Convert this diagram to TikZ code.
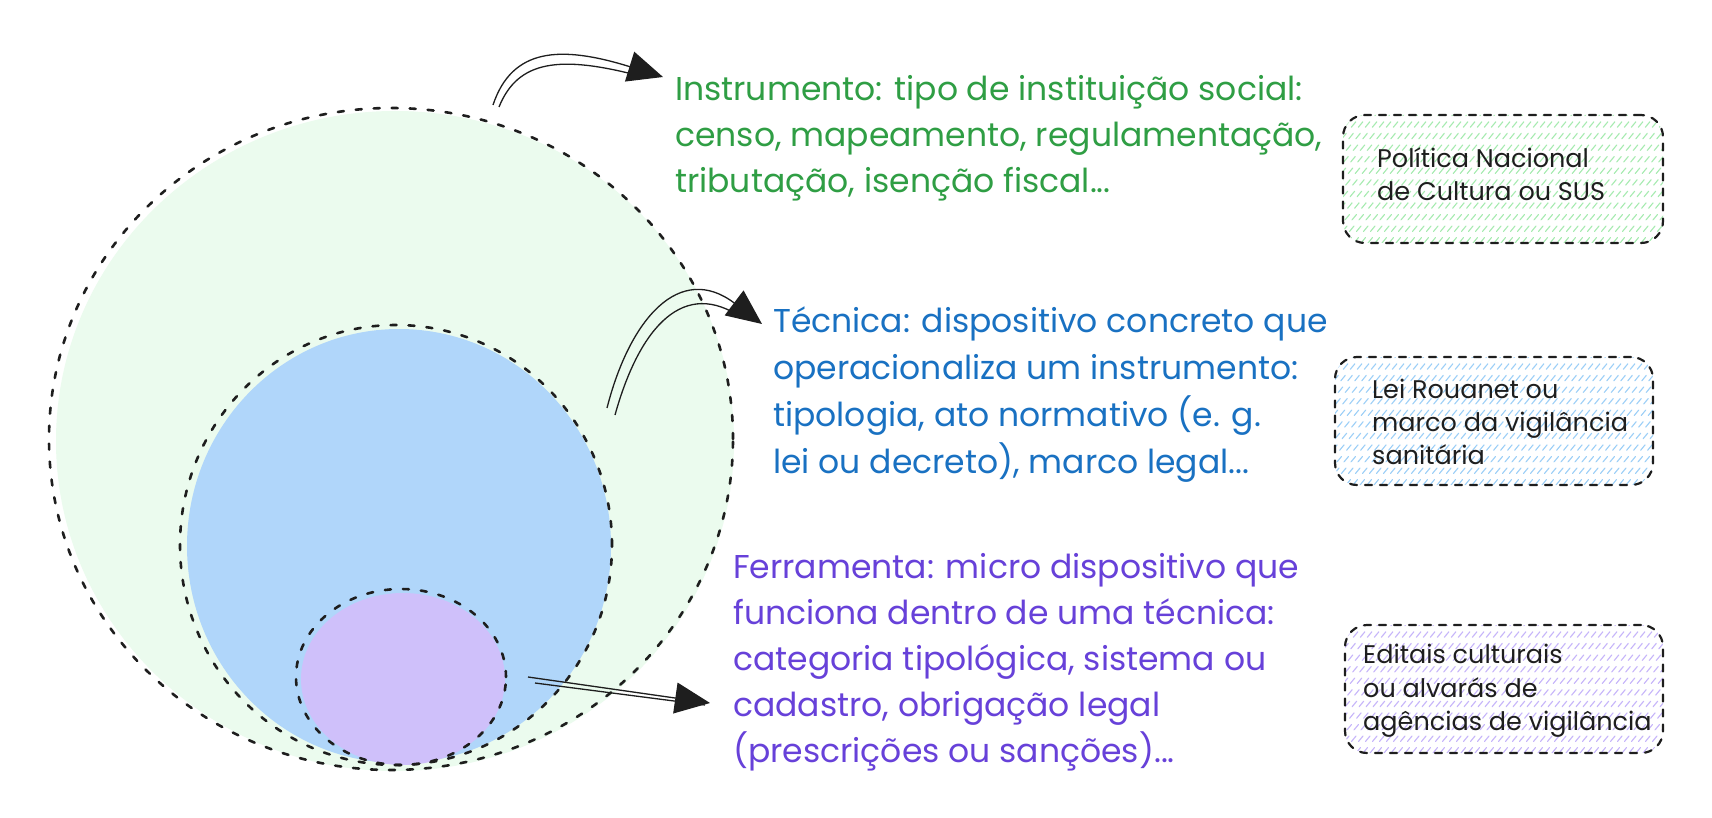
\documentclass[tikz,border=0pt]{standalone}
\usepackage{fontspec}
\setmainfont{Poppins}
\usetikzlibrary{arrows.meta}
\definecolor{ink}{HTML}{1E1E1E}
\definecolor{gtext}{HTML}{2F9E44}
\definecolor{btext}{HTML}{1971C2}
\definecolor{ptext}{HTML}{6741D9}
\definecolor{gfill}{HTML}{EBFBEE}
\definecolor{bfill}{HTML}{B0D6FA}
\definecolor{pfill}{HTML}{CFC0FA}
\definecolor{ghatch}{HTML}{A6EBB0}
\definecolor{bhatch}{HTML}{9CCFF7}
\definecolor{phatch}{HTML}{C6B5FA}
\begin{document}
\begin{tikzpicture}[x=1pt,y=-1pt,
  ring/.style={draw=ink, line width=2.6pt, dash pattern=on 6pt off 12pt, line cap=round},
  arrowline/.style={draw=ink, line width=1.3pt},
  tiphead/.style={-{Triangle[length=35pt,width=31pt,fill=ink]}},
  maintext/.style={anchor=base west, inner sep=0pt, font=\fontsize{33}{40}\selectfont},
  boxtext/.style={anchor=base west, inner sep=0pt, text=ink, font=\fontsize{25.5}{30}\selectfont},
  hatch/.style={path picture={\foreach \k in {-150,-143,...,330}{\draw[#1,line width=1.1pt] ([xshift=\k pt]path picture bounding box.south west) -- ++(140pt,170pt);}}},
  notebox/.style={draw=ink, line width=2.2pt, dash pattern=on 7pt off 8pt, line cap=round, rounded corners=22pt, minimum width=320pt, minimum height=128pt, inner sep=0pt}
]
\useasboundingbox (0,0) rectangle (1712,818);
\fill[white] (0,0) rectangle (1712,818);

% fills
\fill[gfill] (395,441) ellipse [x radius=339pt, y radius=330pt];
\fill[bfill] (399,546) ellipse [x radius=212pt, y radius=217pt];
\fill[pfill] (403,679) ellipse [x radius=102pt, y radius=86pt];

% dashed outlines
\draw[ring] (391,439) ellipse [x radius=342pt, y radius=331pt];
\draw[ring] (396,545) ellipse [x radius=216pt, y radius=220pt];
\draw[ring] (401,677) ellipse [x radius=105pt, y radius=88pt];

% note boxes
\node[notebox, hatch=ghatch] (gbox) at (1503,179) {};
\node[notebox, hatch=bhatch, minimum width=318pt] (bbox) at (1494,421) {};
\node[notebox, hatch=phatch, minimum width=318pt] (pbox) at (1504,689) {};

% arrows
\coordinate (a1s) at (493,105);
\coordinate (a1t) at (499,107);
\coordinate (a1e) at (663,77);
\coordinate (a1f) at (640,76);
\draw[arrowline] (a1t) .. controls (518,60) and (560,55) .. (a1f);
\draw[arrowline, tiphead] (a1s) .. controls (512,48) and (560,45) .. (a1e);

\coordinate (a2s) at (607,408);
\coordinate (a2t) at (615,415);
\coordinate (a2e) at (762,324);
\coordinate (a2f) at (742,318);
\draw[arrowline] (a2t) .. controls (640,325) and (685,278) .. (a2f);
\draw[arrowline, tiphead] (a2s) .. controls (630,318) and (680,262) .. (a2e);

\coordinate (a3s) at (528,677);
\coordinate (a3t) at (535,683);
\coordinate (a3e) at (710,703);
\coordinate (a3f) at (705,705);
\draw[arrowline] (a3t) -- (a3f);
\draw[arrowline, tiphead] (a3s) -- (a3e);

% green text
\node[maintext, text=gtext] (g1) at (675,101) {Instrumento: tipo de instituição social:};
\node[maintext, text=gtext] (g2) at (675,147) {censo, mapeamento, regulamentação,};
\node[maintext, text=gtext] (g3) at (675,193) {tributação, isenção fiscal...};

% blue text
\node[maintext, text=btext] (b1) at (773,332) {Técnica: dispositivo concreto que};
\node[maintext, text=btext] (b2) at (773,379) {operacionaliza um instrumento:};
\node[maintext, text=btext] (b3) at (773,426) {tipologia, ato normativo (e. g.};
\node[maintext, text=btext] (b4) at (773,473) {lei ou decreto), marco legal...};

% purple text
\node[maintext, text=ptext] (p1) at (733,578) {Ferramenta: micro dispositivo que};
\node[maintext, text=ptext] (p2) at (733,624) {funciona dentro de uma técnica:};
\node[maintext, text=ptext] (p3) at (733,670) {categoria tipológica, sistema ou};
\node[maintext, text=ptext] (p4) at (733,716) {cadastro, obrigação legal};
\node[maintext, text=ptext] (p5) at (733,762) {(prescrições ou sanções)...};

% box texts
\node[boxtext] (gt1) at (1377,168) {Política Nacional};
\node[boxtext] (gt2) at (1377,201) {de Cultura ou SUS};
\node[boxtext] (bt1) at (1372,398) {Lei Rouanet ou};
\node[boxtext] (bt2) at (1372,431) {marco da vigilância};
\node[boxtext] (bt3) at (1372,464) {sanitária};
\node[boxtext] (pt1) at (1363,663) {Editais culturais};
\node[boxtext] (pt2) at (1363,697) {ou alvarás de};
\node[boxtext] (pt3) at (1363,730) {agências de vigilância};
\end{tikzpicture}
\end{document}
